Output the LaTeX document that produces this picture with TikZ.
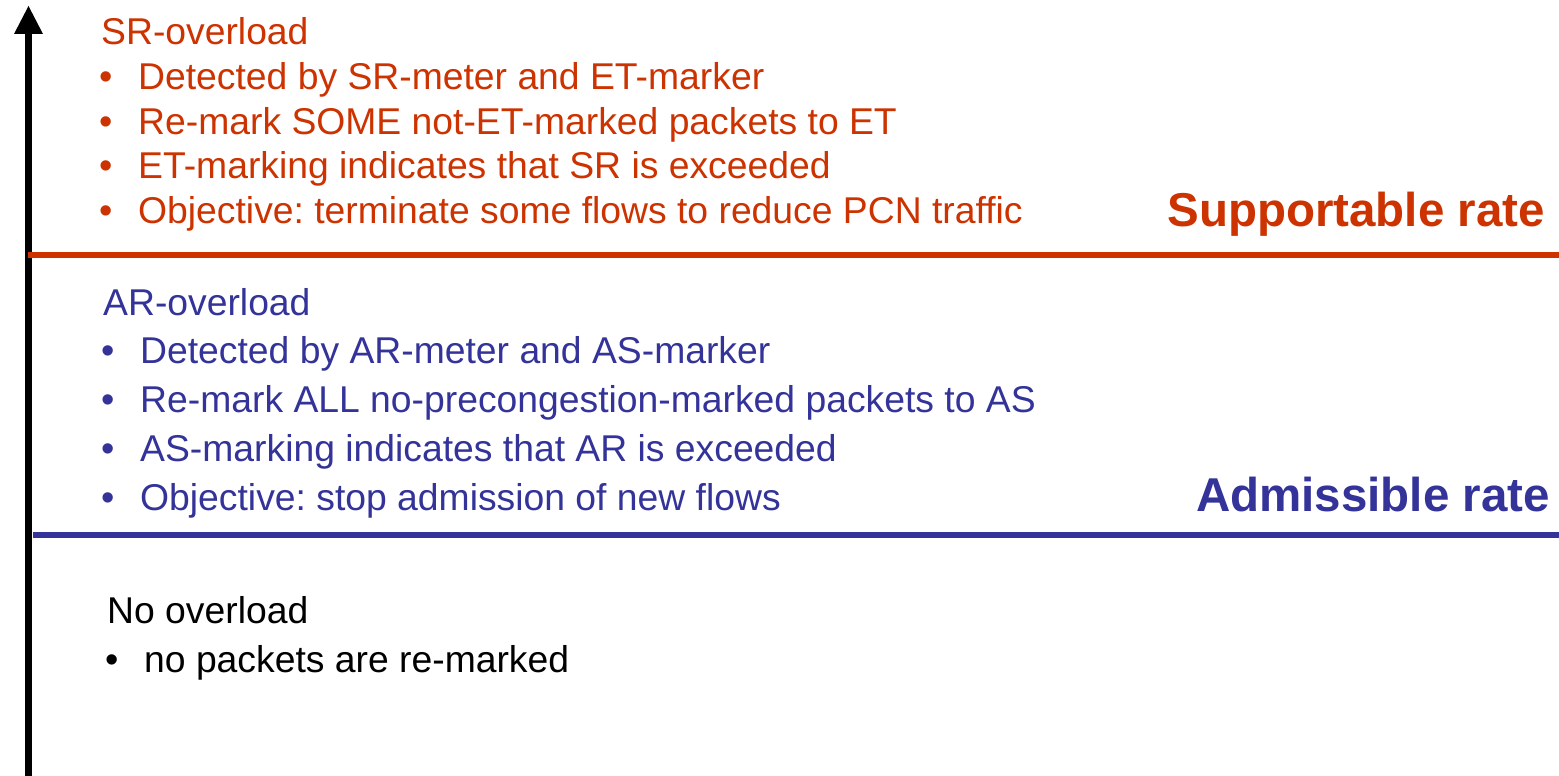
\documentclass[tikz,border=0pt]{standalone}
\usepackage{fontspec}
\setmainfont{Liberation Sans}
\frenchspacing
\definecolor{srred}{HTML}{CC3300}
\definecolor{arblue}{HTML}{333399}
\begin{document}
\begin{tikzpicture}[x=1pt,y=-1pt,
  txt/.style={anchor=base west, inner sep=0pt, font=\fontsize{37.3}{44}\selectfont},
  bul/.style={anchor=base, inner sep=0pt, font=\fontsize{38}{44}\selectfont},
  big/.style={anchor=base east, inner sep=0pt, font=\bfseries\fontsize{47.5}{57}\selectfont},
  level/.style={line width=6pt}]
\useasboundingbox[fill=white] (0,0) rectangle (1559,776);
% axis
\coordinate (axb) at (28.5,776);
\coordinate (axt) at (28.5,34);
\coordinate (tip) at (28.5,6);
\draw[line width=6.5pt] (axb) -- (axt);
\fill ([xshift=-14.5pt]axt) -- (tip) -- ([xshift=14.5pt]axt) -- cycle;
% level lines
\coordinate (srl) at (28,255);
\coordinate (srr) at (1559,255);
\coordinate (arl) at (33,535);
\coordinate (arr) at (1559,535);
\draw[level, srred] (srl) -- (srr);
\draw[level, arblue] (arl) -- (arr);
% SR block
\begin{scope}[srred]
\node[txt] (srh) at (101,45) {SR-overload};
\node[bul] (srb1) at (106,89.5) {•};
\node[bul] (srb2) at (106,134) {•};
\node[bul] (srb3) at (106,178.5) {•};
\node[bul] (srb4) at (106,223) {•};
\node[txt] (srt1) at (138,89.5) {Detected by SR-meter and ET-marker};
\node[txt] (srt2) at (138,134) {Re-mark SOME not-ET-marked packets to ET};
\node[txt] (srt3) at (138,178.5) {ET-marking indicates that SR is exceeded};
\node[txt] (srt4) at (138,223) {Objective: terminate some flows to reduce PCN traffic};
\node[big] (srbig) at (1545,226) {Supportable rate};
\end{scope}
% AR block
\begin{scope}[arblue]
\node[txt] (arh) at (103,315) {AR-overload};
\node[bul] (arb1) at (108.5,363) {•};
\node[bul] (arb2) at (108.5,412) {•};
\node[bul] (arb3) at (108.5,461) {•};
\node[bul] (arb4) at (108.5,510) {•};
\node[txt] (art1) at (140,363) {Detected by AR-meter and AS-marker};
\node[txt] (art2) at (140,412) {Re-mark ALL no-precongestion-marked packets to AS};
\node[txt] (art3) at (140,461) {AS-marking indicates that AR is exceeded};
\node[txt] (art4) at (140,510) {Objective: stop admission of new flows};
\node[big] (arbig) at (1550,511.5) {Admissible rate};
\end{scope}
% no overload
\node[txt] (noh) at (107,623) {No overload};
\node[bul] (nob) at (112,672) {•};
\node[txt] (not) at (144,672) {no packets are re-marked};
\end{tikzpicture}
\end{document}
